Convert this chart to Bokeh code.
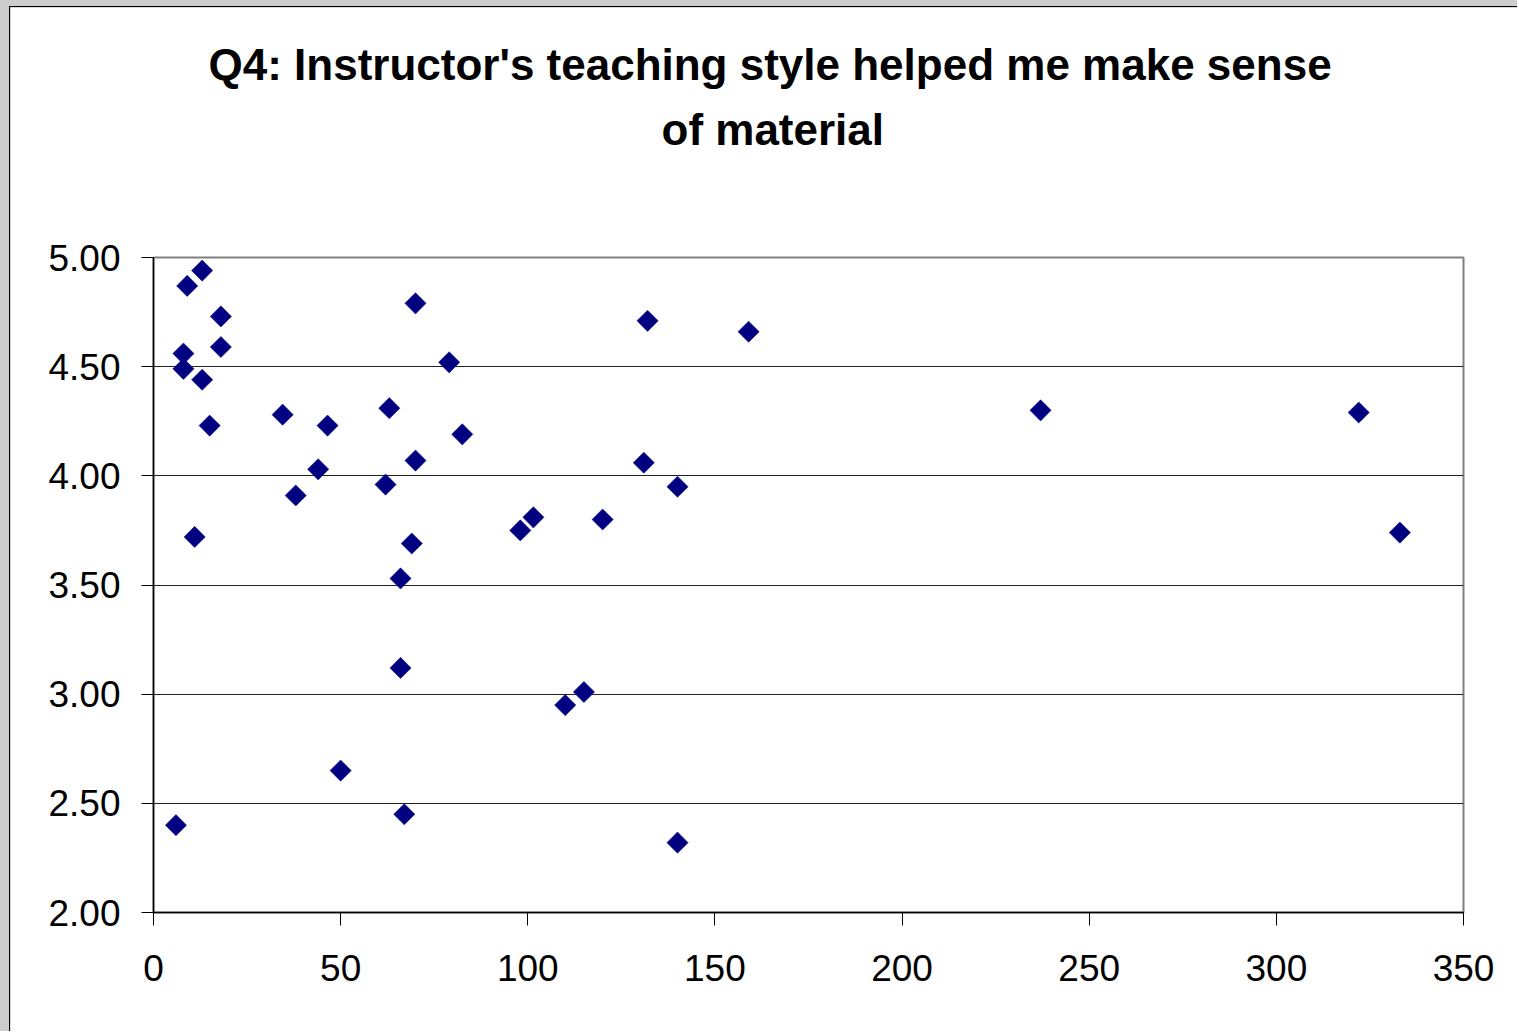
import numpy as np
from bokeh.plotting import figure
from bokeh.models import Range1d, FixedTicker, NumeralTickFormatter, ColumnDataSource, Title
from bokeh.layouts import column
from bokeh.embed import file_html
from bokeh.resources import INLINE

# data
class_size = [6, 9, 13, 18, 8, 8, 18, 13, 15, 11,
              34.5, 38, 44, 46.5, 50, 62, 63, 66, 66, 67,
              69, 70, 70, 79, 82.5, 98, 101.5, 110, 115, 120,
              131, 132, 140, 140, 159, 237, 322, 333]
q4_score = [2.40, 4.87, 4.94, 4.73, 4.56, 4.49, 4.59, 4.44, 4.23, 3.72,
            4.28, 3.91, 4.03, 4.23, 2.65, 3.96, 4.31, 3.53, 3.12, 2.45,
            3.69, 4.79, 4.07, 4.52, 4.19, 3.75, 3.81, 2.95, 3.01, 3.80,
            4.06, 4.71, 3.95, 2.32, 4.66, 4.30, 4.29, 3.74]
x_ticks = [0, 50, 100, 150, 200, 250, 300, 350]
y_ticks = [2.0, 2.5, 3.0, 3.5, 4.0, 4.5, 5.0]
title_line1 = "Q4: Instructor's teaching style helped me make sense"
title_line2 = "of material"

src = ColumnDataSource(dict(x=class_size, y=q4_score))

p = figure(width=1508, height=1025,
           x_range=Range1d(0, 350), y_range=Range1d(2, 5),
           output_backend="svg", toolbar_location=None,
           min_border_left=143, min_border_right=55,
           min_border_top=250, min_border_bottom=120,
           background_fill_color="white", border_fill_color="white")
p.title = None

spacer = Title(text=" ", text_font_size="1px", standoff=94)
t2 = Title(text=title_line2, align="left", offset=508, text_font="Liberation Sans",
           text_font_size="44px", text_font_style="bold", text_color="black",
           standoff=14)
t1 = Title(text=title_line1, align="left", offset=55, text_font="Liberation Sans",
           text_font_size="44px", text_font_style="bold", text_color="black",
           standoff=14)
p.add_layout(spacer, "above")
p.add_layout(t2, "above")
p.add_layout(t1, "above")

p.outline_line_color = "#808080"
p.outline_line_width = 2

p.xgrid.grid_line_color = None
p.ygrid.grid_line_color = "#222222"
p.ygrid.grid_line_width = 1

for ax in (p.xaxis[0], p.yaxis[0]):
    ax.axis_line_color = "black"
    ax.axis_line_width = 1.5
    ax.major_tick_line_color = "black"
    ax.major_tick_line_width = 1
    ax.major_tick_in = 0
    ax.minor_tick_line_color = None
    ax.major_label_text_font = "Liberation Sans"
    ax.major_label_text_font_size = "37px"
    ax.major_label_text_color = "black"

p.xaxis.ticker = FixedTicker(ticks=x_ticks)
p.yaxis.ticker = FixedTicker(ticks=y_ticks)
p.ygrid.ticker = FixedTicker(ticks=y_ticks)
p.yaxis.formatter = NumeralTickFormatter(format="0.00")
p.yaxis.major_tick_out = 12
p.xaxis.major_tick_out = 13
p.yaxis.major_label_standoff = 21
p.xaxis.major_label_standoff = 29

p.scatter("x", "y", source=src, marker="square", size=15, angle=np.pi / 4,
          fill_color="#000080", line_color="#000080", line_width=0.5)

p.styles = {"border-left": "1px solid black", "border-top": "1px solid black"}

layout = column(p, styles={"background-color": "#cdcdcd",
                           "padding-left": "9px", "padding-top": "6px"})

open("out.html", "w").write(file_html(layout, INLINE))
